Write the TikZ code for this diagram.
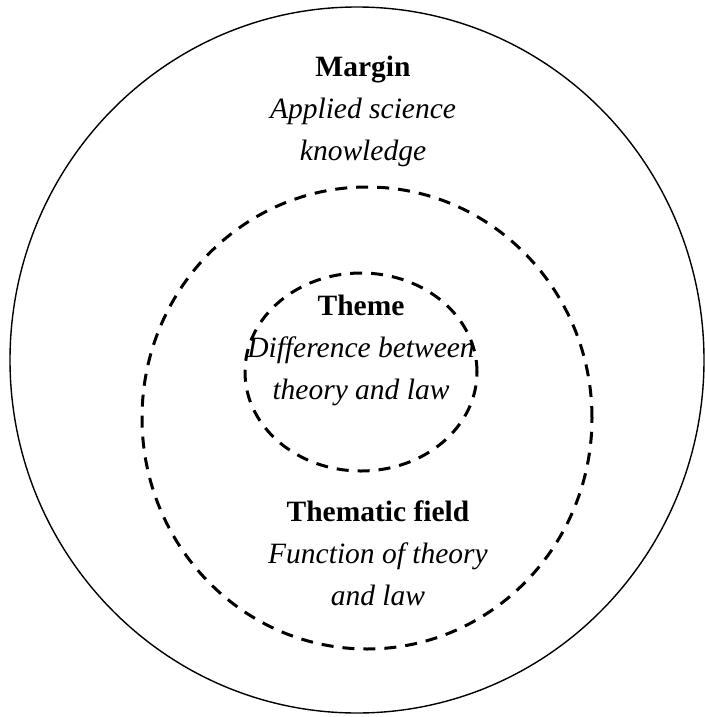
\documentclass[tikz,border=0pt]{standalone}
\usepackage{fontspec}
\setmainfont{Liberation Serif}
\usetikzlibrary{positioning}
\tikzset{%
  ring/.style={draw,line width=1.4pt},
  dashring/.style={draw,line width=3pt,dash pattern=on 12pt off 9pt},
  zonetext/.style={align=center,inner sep=0pt,font=\fontsize{29.5}{42}\selectfont}
}

\begin{document}
\begin{tikzpicture}[x=1pt,y=-1pt]
\useasboundingbox (0,0) rectangle (704,717);

% Rings (outer solid, two dashed inside)
\draw[ring] (357,360) ellipse [x radius=347pt, y radius=353pt];
\draw[dashring] (367,418) ellipse [x radius=225pt, y radius=231pt];
\draw[dashring] (361,372) ellipse [x radius=116pt, y radius=99pt];

% Labels
\node[zonetext] (margin) at (363,111) {\textbf{Margin}\\\textit{Applied science}\\\textit{knowledge}};
\node[zonetext] (theme) at (361,350) {\textbf{Theme}\\\textit{Difference between}\\\textit{theory and law}};
\node[zonetext] (field) at (378,553) {\textbf{Thematic field}\\\textit{Function of theory}\\\textit{and law}};

\end{tikzpicture}
\end{document}
